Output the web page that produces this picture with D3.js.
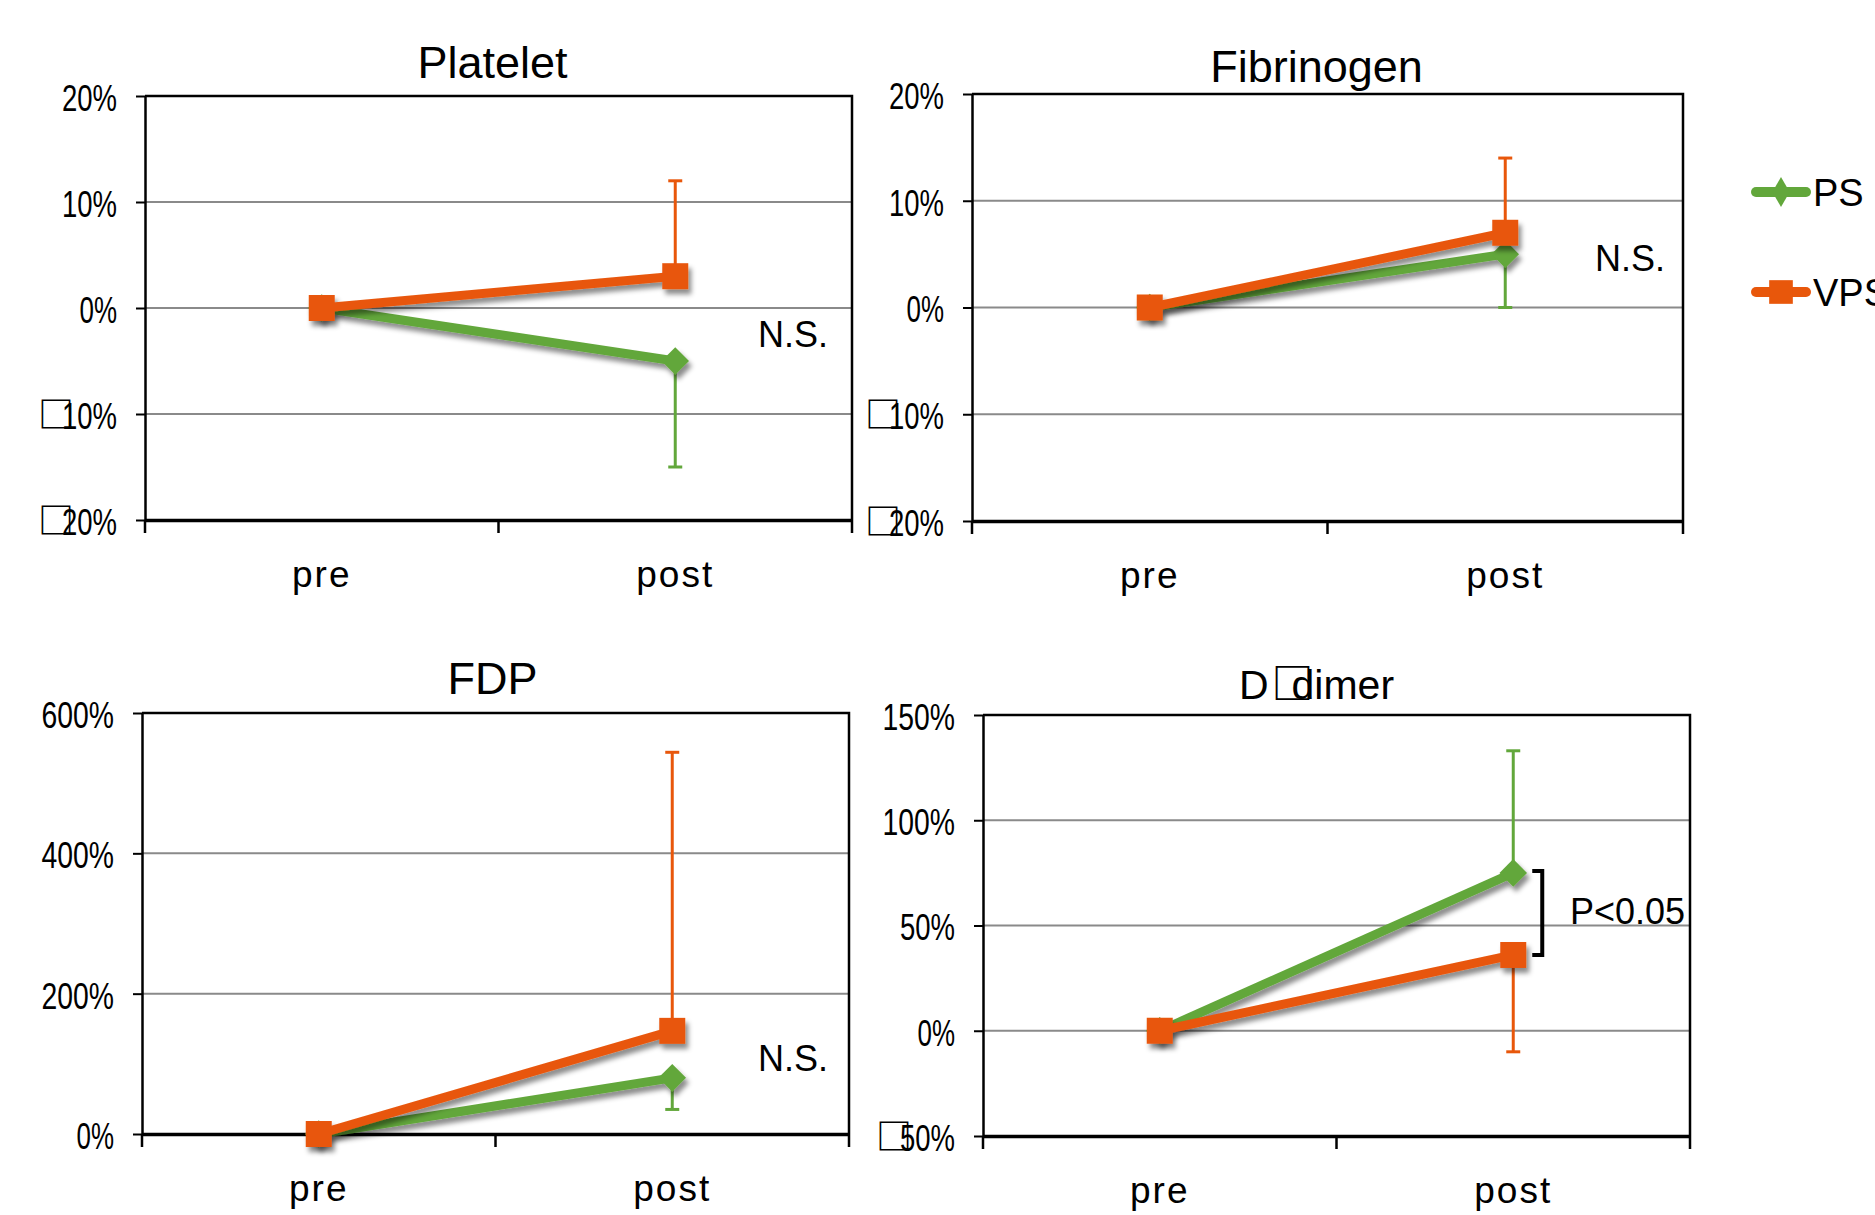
<!DOCTYPE html>
<html>
<head>
<meta charset="utf-8">
<script src="https://cdn.jsdelivr.net/npm/d3@7"></script>
<style>
  body { margin: 0; background: #fff; }
  svg { display: block; }
</style>
</head>
<body>
<div id="chart"></div>
<script>
// data
const categories = ["pre", "post"];
const titles = ["Platelet", "Fibrinogen", "FDP", "D\u25A1dimer"];
const psValues = [[0, -5], [0, 5], [0, 80], [0, 75]];
const vpsValues = [[0, 3], [0, 7], [0, 147], [0, 36]];
// one sided error bars at "post": where the bar ends
const psErrEnd = [-15, 0, 35, 133];
const vpsErrEnd = [12, 14, 544, -10];
const yDomains = [[-20, 20], [-20, 20], [0, 600], [-50, 150]];
const yTicks = [[-20, -10, 0, 10, 20], [-20, -10, 0, 10, 20], [0, 200, 400, 600], [-50, 0, 50, 100, 150]];
const notes = ["N.S.", "N.S.", "N.S.", "P<0.05"];
const seriesNames = ["PS", "VPS"];

const green = "#62a73b", orange = "#e8570b";

// panel layout
const layout = [
  { left: 145, right: 852, top: 96, bottom: 520, titleDx: -6, titleDy: -18, noteX: 793, noteY: 347 },
  { left: 972, right: 1683, top: 94, bottom: 521, titleDx: -11, titleDy: -12, noteX: 1630, noteY: 271 },
  { left: 142, right: 849, top: 713, bottom: 1134, titleDx: -3, titleDy: -19, noteX: 793, noteY: 1071 },
  { left: 983, right: 1690, top: 715, bottom: 1136, titleDx: -20, titleDy: -16, noteX: 1570, noteY: 924 }
];

const svg = d3.select("#chart")
  .append("svg")
  .attr("width", 1875)
  .attr("height", 1215);

svg.append("defs").append("filter")
  .attr("id", "shadow")
  .attr("x", "-20%").attr("y", "-20%")
  .attr("width", "140%").attr("height", "140%")
  .append("feDropShadow")
  .attr("dx", 3).attr("dy", 5)
  .attr("stdDeviation", 2.5)
  .attr("flood-color", "#000")
  .attr("flood-opacity", 0.45);

const textFont = "'Liberation Sans', Arial, Helvetica, sans-serif";
const boxFont = "'Noto Sans CJK JP', 'DejaVu Sans', sans-serif";

const squareSym = d3.symbol(d3.symbolSquare, 676)();
const diamondSym = d3.symbol(d3.symbolSquare, 380)();

// narrow tick labels; the minus sign shows as a box in the original
function tickLabels(sel) {
  sel.each(function (v) {
    const t = d3.select(this);
    const s = Math.abs(v) + "%";
    const len = 17.5 * (s.length - 1) + 20;
    t.text(s)
      .attr("textLength", len)
      .attr("lengthAdjust", "spacingAndGlyphs");
    if (v < 0) {
      d3.select(this.parentNode).append("text")
        .attr("x", -28 - len + 12)
        .attr("dy", "0.37em")
        .attr("text-anchor", "end")
        .attr("font-family", boxFont)
        .attr("font-weight", 700)
        .attr("font-size", 36)
        .attr("fill", "#000")
        .text("\u25A1");
    }
  });
}

titles.forEach((title, i) => {
  const L = layout[i];
  const dom = yDomains[i];
  const x = d3.scaleBand().domain(categories).range([L.left, L.right]);
  const y = d3.scaleLinear().domain(dom).range([L.bottom, L.top]);
  const g = svg.append("g");

  // gridlines
  g.selectAll(".grid")
    .data(yTicks[i].filter(v => v > dom[0] && v < dom[1]))
    .join("line")
    .attr("x1", L.left).attr("x2", L.right)
    .attr("y1", d => y(d)).attr("y2", d => y(d))
    .attr("stroke", "#8a8a8a")
    .attr("stroke-width", 2);

  // top and right border
  g.append("path")
    .attr("d", `M${L.left},${y(dom[1])}H${L.right}V${y(dom[0])}`)
    .attr("fill", "none")
    .attr("stroke", "#000")
    .attr("stroke-width", 2.5);

  // y axis
  const yAxis = g.append("g")
    .attr("transform", `translate(${L.left},0)`)
    .call(d3.axisLeft(y).tickValues(yTicks[i]).tickSize(9).tickPadding(19).tickSizeOuter(0));
  yAxis.select(".domain").attr("stroke", "#000").attr("stroke-width", 2.5);
  yAxis.selectAll(".tick line").attr("stroke", "#000").attr("stroke-width", 2);
  yAxis.selectAll(".tick text")
    .attr("font-family", textFont)
    .attr("font-size", 36)
    .attr("dy", "0.4em")
    .attr("fill", "#000")
    .call(tickLabels);

  // x axis: labels centred in bands, ticks on band edges
  const xAxis = g.append("g")
    .attr("transform", `translate(0,${L.bottom})`)
    .call(d3.axisBottom(x).tickSize(0).tickSizeOuter(0));
  xAxis.select(".domain").attr("stroke", "#000").attr("stroke-width", 3.5);
  xAxis.selectAll(".tick text")
    .attr("y", 67).attr("dy", 0)
    .attr("font-family", textFont)
    .attr("font-size", 37)
    .attr("letter-spacing", 2)
    .attr("fill", "#000");
  const edges = [x.range()[0]].concat(categories.map(c => x(c) + x.bandwidth()));
  xAxis.selectAll(".edge")
    .data(edges)
    .join("line")
    .attr("x1", d => d).attr("x2", d => d)
    .attr("y1", 0).attr("y2", 13)
    .attr("stroke", "#000")
    .attr("stroke-width", 2.5);

  // title
  g.append("text")
    .attr("x", (L.left + L.right) / 2 + L.titleDx)
    .attr("y", L.top + L.titleDy)
    .attr("text-anchor", "middle")
    .attr("font-family", textFont)
    .attr("font-size", i === 3 ? 41 : 45)
    .attr("fill", "#000")
    .call(sel => {
      if (i === 3) {
        const parts = title.split("\u25A1");
        sel.append("tspan").text(parts[0]);
        sel.append("tspan").attr("font-family", boxFont).attr("font-weight", 700)
          .attr("font-size", 42).attr("dx", 3).text("\u25A1");
        sel.append("tspan").attr("dx", -22).text(parts[1]);
      } else {
        sel.text(title);
      }
    });

  const cx = c => x(c) + x.bandwidth() / 2;
  const line = d3.line().x((d, k) => cx(categories[k])).y(d => y(d));

  const series = [
    { values: psValues[i], err: psErrEnd[i], color: green, sym: diamondSym, rot: 45 },
    { values: vpsValues[i], err: vpsErrEnd[i], color: orange, sym: squareSym, rot: 0 }
  ];

  // error bars first (under the markers)
  series.forEach(s => {
    const px = cx("post");
    const eg = g.append("g").attr("stroke", s.color).attr("stroke-width", 3);
    eg.append("line")
      .attr("x1", px).attr("x2", px)
      .attr("y1", y(s.values[1])).attr("y2", y(s.err));
    eg.append("line")
      .attr("x1", px - 7).attr("x2", px + 7)
      .attr("y1", y(s.err)).attr("y2", y(s.err));
  });

  series.forEach(s => {
    const sg = g.append("g").attr("filter", "url(#shadow)");
    sg.append("path")
      .attr("d", line(s.values))
      .attr("fill", "none")
      .attr("stroke", s.color)
      .attr("stroke-width", 9);
    sg.selectAll(".pt")
      .data(s.values)
      .join("path")
      .attr("d", s.sym)
      .attr("transform", (d, k) => `translate(${cx(categories[k])},${y(d)}) rotate(${s.rot})`)
      .attr("fill", s.color);
  });

  // significance note
  g.append("text")
    .attr("x", L.noteX)
    .attr("y", L.noteY)
    .attr("text-anchor", i === 3 ? "start" : "middle")
    .attr("font-family", textFont)
    .attr("font-size", 36)
    .attr("fill", "#000")
    .text(notes[i]);

  // bracket between post values for the significant panel
  if (i === 3) {
    const bx = cx("post") + 29;
    const y1 = y(psValues[i][1]) - 2, y2 = y(vpsValues[i][1]);
    g.append("path")
      .attr("d", `M${bx - 10},${y1}H${bx}V${y2}H${bx - 10}`)
      .attr("fill", "none")
      .attr("stroke", "#000")
      .attr("stroke-width", 4);
  }
});

// legend
const legend = svg.append("g").attr("transform", "translate(1751,0)");
const legendY = [192, 292];
const legendSyms = [d3.symbol(d3.symbolDiamond, 260)(), d3.symbol(d3.symbolSquare, 560)()];
[green, orange].forEach((col, k) => {
  const lg = legend.append("g").attr("transform", `translate(0,${legendY[k]})`);
  lg.append("line")
    .attr("x1", 5).attr("x2", 55)
    .attr("stroke", col)
    .attr("stroke-width", 10)
    .attr("stroke-linecap", "round");
  lg.append("path")
    .attr("d", legendSyms[k])
    .attr("transform", "translate(30,0)")
    .attr("fill", col);
  lg.append("text")
    .attr("x", 62)
    .attr("y", 14)
    .attr("font-family", textFont)
    .attr("font-size", 38)
    .attr("fill", "#000")
    .text(seriesNames[k]);
});
</script>
</body>
</html>
